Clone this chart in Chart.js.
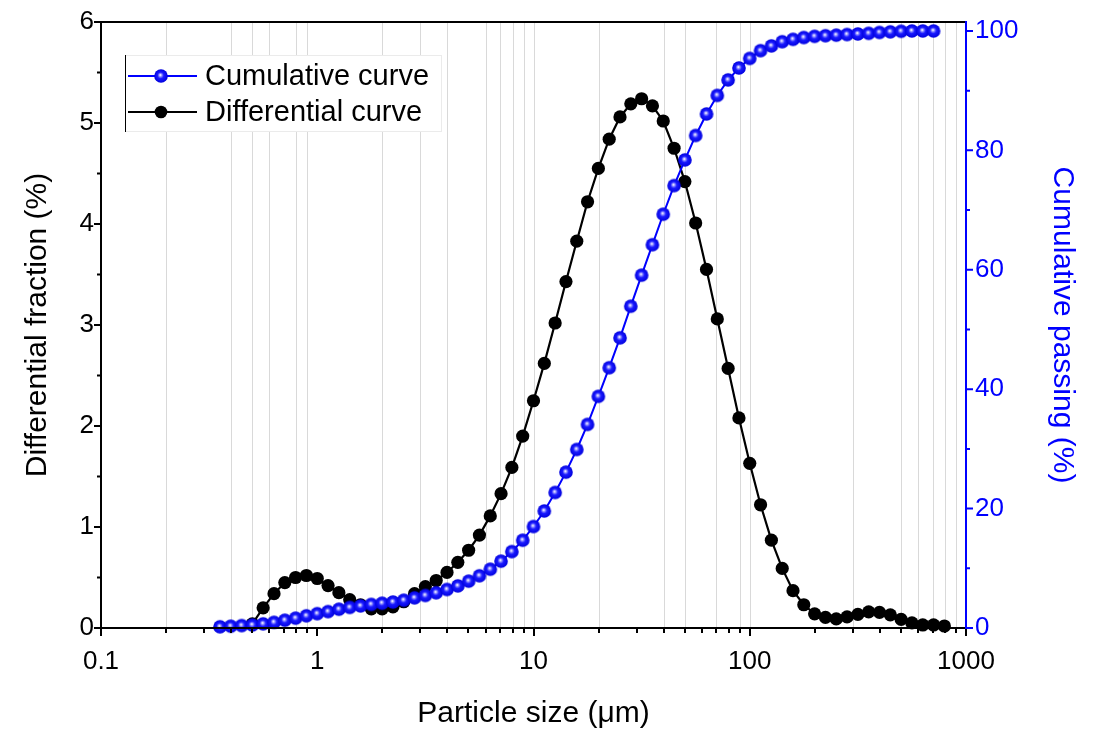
<!DOCTYPE html>
<html>
<head>
<meta charset="utf-8">
<script src="https://cdn.jsdelivr.net/npm/chart.js@4.4.0/dist/chart.umd.min.js"></script>
<style>
  html, body { margin: 0; padding: 0; background: #fff; }
</style>
</head>
<body>
<canvas id="psd" width="1095" height="733"></canvas>
<script>
// particle size classes (um)
const sizes = [
  0.355, 0.398, 0.447, 0.501, 0.562, 0.631, 0.708, 0.794, 0.891, 1.0,
  1.122, 1.259, 1.413, 1.585, 1.778, 1.995, 2.239, 2.512, 2.818, 3.162,
  3.548, 3.981, 4.467, 5.012, 5.623, 6.31, 7.079, 7.943, 8.913, 10.0,
  11.22, 12.59, 14.13, 15.85, 17.78, 19.95, 22.39, 25.12, 28.18, 31.62,
  35.48, 39.81, 44.67, 50.12, 56.23, 63.1, 70.79, 79.43, 89.13, 100.0,
  112.2, 125.9, 141.3, 158.5, 177.8, 199.5, 223.9, 251.2, 281.8, 316.2,
  354.8, 398.1, 446.7, 501.2, 562.3, 631.0, 707.9, 794.3
];

// cumulative passing (%) - right axis
const cumulative = [
  0.2, 0.3, 0.4, 0.5, 0.7, 0.95, 1.3, 1.65, 2.05, 2.4,
  2.75, 3.15, 3.45, 3.7, 3.95, 4.15, 4.35, 4.65, 5.05, 5.45,
  5.9, 6.45, 7.05, 7.85, 8.75, 9.85, 11.2, 12.8, 14.7, 17.0,
  19.6, 22.7, 26.1, 29.9, 34.1, 38.8, 43.6, 48.6, 53.9, 59.1,
  64.2, 69.3, 74.1, 78.4, 82.5, 86.1, 89.2, 91.8, 93.8, 95.4,
  96.7, 97.5, 98.2, 98.6, 98.9, 99.1, 99.2, 99.3, 99.4, 99.5,
  99.6, 99.75, 99.85, 99.95, 100, 100, 100, null
];

// differential fraction (%) - left axis
const differential = [
  null, null, null, 0.04, 0.20, 0.34, 0.45, 0.50, 0.52, 0.49,
  0.42, 0.35, 0.28, 0.23, 0.19, 0.19, 0.21, 0.26, 0.34, 0.41,
  0.47, 0.55, 0.65, 0.77, 0.92, 1.11, 1.33, 1.59, 1.90, 2.25,
  2.62, 3.02, 3.43, 3.83, 4.22, 4.55, 4.84, 5.06, 5.19, 5.24,
  5.17, 5.02, 4.75, 4.42, 4.01, 3.55, 3.06, 2.57, 2.08, 1.63,
  1.22, 0.87, 0.59, 0.37, 0.23, 0.14, 0.105, 0.09, 0.11, 0.135,
  0.16, 0.155, 0.13, 0.085, 0.05, 0.03, 0.03, 0.02
];

// axis ticks
const xTicks = [
  0.1, 0.2, 0.3, 0.4, 0.5, 0.6, 0.7, 0.8, 0.9,
  1, 2, 3, 4, 5, 6, 7, 8, 9,
  10, 20, 30, 40, 50, 60, 70, 80, 90,
  100, 200, 300, 400, 500, 600, 700, 800, 900, 1000
];
const xDecades = [0.1, 1, 10, 100, 1000];
const xDecadeLabels = ['0.1', '1', '10', '100', '1000'];
const gridSizes = [0.2, 0.4, 0.5, 0.6, 0.8, 0.9, 2, 3, 4, 6, 7, 8, 9, 10, 20, 40, 50, 70, 90, 100, 300, 500, 600, 700, 800, 900];
const leftTicks = [0, 1, 2, 3, 4, 5, 6];
const rightTicks = [0, 20, 40, 60, 80, 100];

const BLUE = '#0000ff';
const FONT = '"Liberation Sans", Arial, sans-serif';

function makeBall(r) {
  const c = document.createElement('canvas');
  c.width = c.height = Math.ceil(r * 2 + 2);
  const g = c.getContext('2d');
  const m = c.width / 2;
  const grad = g.createRadialGradient(m - r * 0.1, m - r * 0.15, 0.2, m, m, r);
  grad.addColorStop(0, '#ffffff');
  grad.addColorStop(0.2, '#8c8cff');
  grad.addColorStop(0.45, '#1a1aff');
  grad.addColorStop(1, '#0000dd');
  g.fillStyle = grad;
  g.beginPath();
  g.arc(m, m, r, 0, Math.PI * 2);
  g.fill();
  return c;
}
const ball = makeBall(6.8);

function pts(vals) {
  return sizes.map((s, i) => ({x: s, y: vals[i]})).filter(p => p.y !== null);
}

// grid lines, frame and tick marks
const framePlugin = {
  id: 'frame',
  beforeDatasetsDraw(chart) {
    const {ctx, chartArea: a, scales} = chart;
    ctx.save();
    ctx.strokeStyle = '#d9d9d9';
    ctx.lineWidth = 1;
    gridSizes.forEach(v => {
      const px = Math.round(scales.x.getPixelForValue(v)) + 0.5;
      ctx.beginPath();
      ctx.moveTo(px, a.top);
      ctx.lineTo(px, a.bottom);
      ctx.stroke();
    });
    ctx.restore();
  },
  afterDraw(chart) {
    const {ctx, chartArea: a, scales} = chart;
    ctx.save();
    ctx.lineWidth = 2;
    ctx.strokeStyle = '#000';
    ctx.beginPath();
    ctx.moveTo(a.left, a.top); ctx.lineTo(a.right, a.top);
    ctx.moveTo(a.left, a.top - 1); ctx.lineTo(a.left, a.bottom + 1);
    ctx.moveTo(a.left, a.bottom); ctx.lineTo(a.right, a.bottom);
    // bottom ticks
    xTicks.forEach(v => {
      const px = Math.round(scales.x.getPixelForValue(v));
      const len = xDecades.includes(v) ? 8 : 5;
      ctx.moveTo(px, a.bottom); ctx.lineTo(px, a.bottom + len);
    });
    // left ticks
    for (let i = 0; i < leftTicks.length; i++) {
      const py = scales.y.getPixelForValue(leftTicks[i]);
      ctx.moveTo(a.left, py); ctx.lineTo(a.left - 7, py);
      if (i < leftTicks.length - 1) {
        const pm = scales.y.getPixelForValue((leftTicks[i] + leftTicks[i + 1]) / 2);
        ctx.moveTo(a.left, pm); ctx.lineTo(a.left - 4, pm);
      }
    }
    ctx.stroke();
    // right axis in blue
    ctx.strokeStyle = BLUE;
    ctx.beginPath();
    ctx.moveTo(a.right, a.top - 1); ctx.lineTo(a.right, a.bottom + 1);
    for (let i = 0; i < rightTicks.length; i++) {
      const py = scales.y1.getPixelForValue(rightTicks[i]);
      ctx.moveTo(a.right, py); ctx.lineTo(a.right + 7, py);
      if (i < rightTicks.length - 1) {
        const pm = scales.y1.getPixelForValue((rightTicks[i] + rightTicks[i + 1]) / 2);
        ctx.moveTo(a.right, pm); ctx.lineTo(a.right + 4, pm);
      }
    }
    ctx.stroke();
    ctx.restore();
  }
};

// legend box like the original
const legendPlugin = {
  id: 'legendBox',
  afterDraw(chart) {
    const ctx = chart.ctx;
    const box = {l: 125, t: 55, r: 442, b: 132};
    ctx.save();
    ctx.fillStyle = '#fff';
    ctx.fillRect(box.l, box.t, box.r - box.l, box.b - box.t);
    ctx.strokeStyle = '#ebebeb';
    ctx.lineWidth = 1;
    ctx.strokeRect(box.l + 0.5, box.t + 0.5, box.r - box.l - 1, box.b - box.t - 1);
    ctx.strokeStyle = '#000';
    ctx.beginPath();
    ctx.moveTo(box.l + 0.5, box.t); ctx.lineTo(box.l + 0.5, box.b);
    ctx.stroke();
    const rows = chart.data.datasets.map((ds, i) => ({ds, y: i === 0 ? 76 : 112}));
    rows.forEach(({ds, y}) => {
      ctx.strokeStyle = ds.borderColor;
      ctx.lineWidth = 2;
      ctx.beginPath();
      ctx.moveTo(128, y); ctx.lineTo(197, y);
      ctx.stroke();
      if (ds.pointStyle === ball) {
        ctx.drawImage(ball, 161 - ball.width / 2, y - ball.height / 2);
      } else {
        ctx.fillStyle = '#000';
        ctx.beginPath();
        ctx.arc(161, y, 6.3, 0, Math.PI * 2);
        ctx.fill();
      }
      ctx.fillStyle = '#000';
      ctx.font = '29px ' + FONT;
      ctx.textBaseline = 'middle';
      ctx.textAlign = 'left';
      ctx.fillText(ds.label, 205, y + 1);
    });
    ctx.restore();
  }
};

new Chart(document.getElementById('psd'), {
  type: 'line',
  data: {
    datasets: [
      {
        label: 'Cumulative curve',
        data: pts(cumulative),
        yAxisID: 'y1',
        borderColor: BLUE,
        backgroundColor: BLUE,
        borderWidth: 2,
        pointStyle: ball,
        pointRadius: 6.8,
        clip: false
      },
      {
        label: 'Differential curve',
        data: pts(differential),
        yAxisID: 'y',
        borderColor: '#000',
        backgroundColor: '#000',
        borderWidth: 2.2,
        pointStyle: 'circle',
        pointRadius: 6.6,
        pointBorderWidth: 0,
        clip: false
      }
    ]
  },
  options: {
    responsive: false,
    animation: false,
    layout: {padding: {top: 18, left: 0, right: 0, bottom: 0}},
    plugins: {legend: {display: false}, tooltip: {enabled: false}},
    scales: {
      x: {
        type: 'logarithmic',
        min: 0.1,
        max: 1000,
        afterBuildTicks: s => { s.ticks = xTicks.map(v => ({value: v})); },
        afterFit: s => { s.height = 105; },
        grid: {display: false, drawTicks: false},
        border: {display: false},
        ticks: {
          autoSkip: false,
          maxRotation: 0,
          padding: 21,
          color: '#000',
          font: {family: FONT, size: 26, lineHeight: 1},
          callback: v => {
            const k = xDecades.indexOf(v);
            return k >= 0 ? xDecadeLabels[k] : '';
          }
        },
        title: {
          display: true,
          text: 'Particle size (μm)',
          color: '#000',
          font: {family: FONT, size: 30, lineHeight: 1},
          padding: {top: 0, bottom: 4}
        }
      },
      y: {
        position: 'left',
        min: 0,
        max: 6,
        afterBuildTicks: s => { s.ticks = leftTicks.map(v => ({value: v})); },
        afterFit: s => { s.width = 101; },
        grid: {display: false, drawTicks: false},
        border: {display: false},
        ticks: {padding: 7, color: '#000', font: {family: FONT, size: 26, lineHeight: 1}},
        title: {
          display: true,
          text: 'Differential fraction (%)',
          color: '#000',
          font: {family: FONT, size: 30, lineHeight: 1},
          padding: {top: 23, bottom: 0}
        }
      },
      y1: {
        position: 'right',
        min: 0,
        max: 101.5,
        afterBuildTicks: s => { s.ticks = rightTicks.map(v => ({value: v})); },
        afterFit: s => { s.width = 129; },
        grid: {display: false, drawTicks: false},
        border: {display: false},
        ticks: {padding: 9, color: BLUE, font: {family: FONT, size: 26, lineHeight: 1}},
        title: {
          display: true,
          text: 'Cumulative passing (%)',
          color: BLUE,
          font: {family: FONT, size: 30, lineHeight: 1},
          padding: {top: 18, bottom: 0}
        }
      }
    }
  },
  plugins: [framePlugin, legendPlugin]
});
</script>
</body>
</html>
